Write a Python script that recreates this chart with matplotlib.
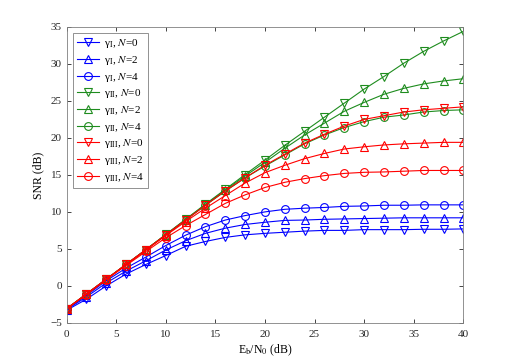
import matplotlib
matplotlib.use('Agg')
import matplotlib.pyplot as plt
import matplotlib.ticker as ticker

plt.rcParams['font.family'] = ['Liberation Serif', 'DejaVu Serif']
plt.rcParams['mathtext.fontset'] = 'stix'

# Eb/N0 grid (dB)
ebn0 = [0, 2, 4, 6, 8, 10, 12, 14, 16, 18, 20, 22, 24, 26, 28, 30, 32, 34, 36, 38, 40]

# gamma_I
g1_n0 = [-3.3, -1.8, 0.0, 1.6, 2.9, 4.1, 5.35, 6.0, 6.55, 6.9, 7.1, 7.25, 7.4, 7.5, 7.5, 7.6, 7.6, 7.6, 7.65, 7.65, 7.7]
g1_n2 = [-3.2, -1.5, 0.4, 2.0, 3.4, 4.85, 6.1, 7.1, 7.8, 8.3, 8.6, 8.85, 8.9, 9.0, 9.05, 9.1, 9.15, 9.2, 9.2, 9.2, 9.2]
g1_n4 = [-3.15, -1.3, 0.7, 2.4, 3.9, 5.45, 6.85, 8.0, 8.9, 9.5, 10.0, 10.35, 10.5, 10.6, 10.75, 10.8, 10.9, 10.9, 10.95, 10.95, 10.95]
# gamma_II
g2_n0 = [-3.1, -1.1, 0.9, 2.9, 4.9, 6.95, 9.0, 11.05, 13.05, 15.05, 17.0, 19.0, 20.9, 22.8, 24.7, 26.6, 28.3, 30.1, 31.7, 33.1, 34.4]
g2_n2 = [-3.1, -1.1, 0.9, 2.9, 4.9, 6.9, 8.95, 10.95, 12.95, 14.85, 16.7, 18.6, 20.4, 22.0, 23.6, 24.8, 25.9, 26.7, 27.3, 27.7, 28.0]
g2_n4 = [-3.1, -1.1, 0.9, 2.9, 4.9, 6.9, 8.9, 10.9, 12.8, 14.6, 16.2, 17.7, 19.2, 20.4, 21.4, 22.2, 22.8, 23.1, 23.5, 23.7, 23.8]
# gamma_III
g3_n0 = [-3.1, -1.1, 0.9, 2.9, 4.9, 6.9, 8.9, 10.9, 12.85, 14.6, 16.3, 17.8, 19.3, 20.5, 21.6, 22.5, 23.0, 23.5, 23.8, 24.0, 24.2]
g3_n2 = [-3.1, -1.1, 0.9, 2.9, 4.85, 6.8, 8.7, 10.5, 12.2, 13.9, 15.3, 16.3, 17.2, 17.9, 18.5, 18.8, 19.05, 19.2, 19.3, 19.4, 19.4]
g3_n4 = [-3.1, -1.2, 0.85, 2.75, 4.65, 6.5, 8.15, 9.65, 11.15, 12.3, 13.3, 14.0, 14.5, 14.9, 15.2, 15.35, 15.4, 15.5, 15.6, 15.6, 15.6]

series = [g1_n0, g1_n2, g1_n4, g2_n0, g2_n2, g2_n4, g3_n0, g3_n2, g3_n4]
labels = [r'γ$_{\mathrm{I}}$, $N$=0', r'γ$_{\mathrm{I}}$, $N$=2', r'γ$_{\mathrm{I}}$, $N$=4',
          r'γ$_{\mathrm{II}}$, $N$=0', r'γ$_{\mathrm{II}}$, $N$=2', r'γ$_{\mathrm{II}}$, $N$=4',
          r'γ$_{\mathrm{III}}$, $N$=0', r'γ$_{\mathrm{III}}$, $N$=2', r'γ$_{\mathrm{III}}$, $N$=4']
colors = ['#0000ff'] * 3 + ['#1e8c1e'] * 3 + ['#ff0000'] * 3
markers = ['v', '^', 'o'] * 3

fig = plt.figure(figsize=(5.12, 3.64), dpi=100)
ax = fig.add_axes([0.13, 0.113, 0.775, 0.813])

for y, lab, c, m in zip(series, labels, colors, markers):
    ax.plot(ebn0, y, color=c, marker=m, markersize=5.6, markerfacecolor='none',
            markeredgecolor=c, markeredgewidth=0.8, linewidth=0.8, label=lab)

ax.set_xlim(0, 40)
ax.set_ylim(-5, 35)
ax.xaxis.set_major_locator(ticker.MultipleLocator(5))
ax.yaxis.set_major_locator(ticker.MultipleLocator(5))
ax.tick_params(axis='both', direction='in', length=3, width=0.6, labelsize=8,
               top=True, right=True, colors='#262626')
ax.tick_params(axis='x', pad=5)
for sp in ax.spines.values():
    sp.set_linewidth(0.6)
    sp.set_color('#808080')

ax.set_xlabel(r'E$_{\mathrm{b}}$/N$_0$ (dB)', fontsize=8.5, labelpad=3)
ax.set_ylabel('SNR (dB)', fontsize=8.5, labelpad=4)

leg = ax.legend(loc='upper left', bbox_to_anchor=(0.015, 0.98), borderaxespad=0,
                fontsize=8, fancybox=False, handlelength=2.0, handletextpad=0.4,
                labelspacing=0.33, borderpad=0.4, framealpha=1)
leg.get_frame().set_edgecolor('#808080')
leg.get_frame().set_linewidth(0.6)

fig.savefig('out.png', dpi=100)
